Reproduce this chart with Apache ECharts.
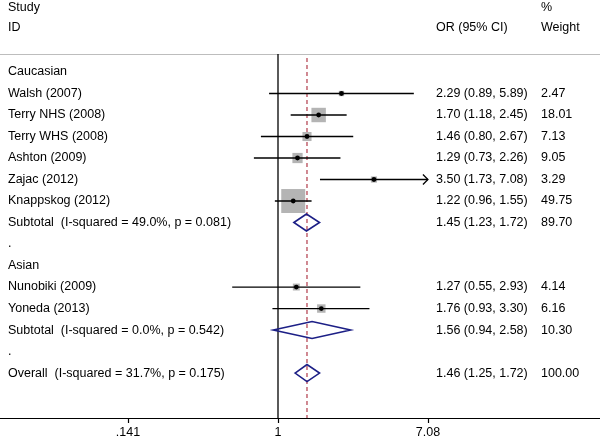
<!DOCTYPE html>
<html>
<head>
<meta charset="utf-8">
<script src="https://cdn.jsdelivr.net/npm/echarts@6/dist/echarts.min.js"></script>
<style>html,body{margin:0;padding:0;background:#fff}#c{width:600px;height:443px}</style>
</head>
<body>
<div id="c"></div>
<script>
// ---- data ----
const rowLabels = ['Caucasian','Walsh (2007)','Terry NHS (2008)','Terry WHS (2008)','Ashton (2009)','Zajac (2012)','Knappskog (2012)','Subtotal  (I-squared = 49.0%, p = 0.081)','.','Asian','Nunobiki (2009)','Yoneda (2013)','Subtotal  (I-squared = 0.0%, p = 0.542)','.','Overall  (I-squared = 31.7%, p = 0.175)'];
const rowOR = ['','2.29 (0.89, 5.89)','1.70 (1.18, 2.45)','1.46 (0.80, 2.67)','1.29 (0.73, 2.26)','3.50 (1.73, 7.08)','1.22 (0.96, 1.55)','1.45 (1.23, 1.72)','','','1.27 (0.55, 2.93)','1.76 (0.93, 3.30)','1.56 (0.94, 2.58)','','1.46 (1.25, 1.72)'];
const rowWeight = ['','2.47','18.01','7.13','9.05','3.29','49.75','89.70','','','4.14','6.16','10.30','','100.00'];

const studyRows = [1,2,3,4,5,6,10,11];
const studyOR = [2.29,1.70,1.46,1.29,3.50,1.22,1.27,1.76];
const studyLo = [0.89,1.18,0.80,0.73,1.73,0.96,0.55,0.93];
const studyHi = [5.89,2.45,2.67,2.26,7.08,1.55,2.93,3.30];
const studyWeight = [2.47,18.01,7.13,9.05,3.29,49.75,4.14,6.16];

const pooledRows = [7,12,14];
const pooledOR = [1.45,1.56,1.46];
const pooledLo = [1.23,0.94,1.25];
const pooledHi = [1.72,2.58,1.72];

const tickValues = [0.141, 1, 7.08];
const tickLabels = ['.141', '1', '7.08'];
const nullValue = 1;
const overallOR = pooledOR[pooledOR.length - 1];

// ---- layout ----
const FONT = 'Liberation Sans';
const FS = 12.5;
const pxPerDec = 300 / (Math.log10(7.08) - Math.log10(0.141));
const xAt1 = 278;
const xMin = Math.pow(10, -xAt1 / pxPerDec);
const xMax = Math.pow(10, (600 - xAt1) / pxPerDec);
const arrowLimit = tickValues[tickValues.length - 1];

const studyData = studyRows.map((r, i) => [studyOR[i], studyLo[i], studyHi[i], r, studyWeight[i]]);
const pooledData = pooledRows.map((r, i) => [pooledOR[i], pooledLo[i], pooledHi[i], r]);
const textData = rowLabels.map((l, i) => [1, i, l, rowOR[i], rowWeight[i]]);

const chart = echarts.init(document.getElementById('c'), null, {renderer: 'canvas'});
chart.setOption({
  animation: false,
  backgroundColor: '#fff',
  grid: {left: 0, right: 0, top: 54, bottom: 25},
  xAxis: [{
    type: 'log', logBase: 10, min: xMin, max: xMax, position: 'bottom',
    axisLine: {show: true, onZero: false, lineStyle: {color: '#000', width: 1.2}},
    axisTick: {show: true, length: 5, inside: false, lineStyle: {color: '#000', width: 1.2}, customValues: tickValues},
    axisLabel: {show: true, margin: 8, color: '#000', fontFamily: FONT, fontSize: FS, customValues: tickValues,
      formatter: v => { const k = tickValues.findIndex(t => Math.abs(t - v) < 1e-6); return k >= 0 ? tickLabels[k] : ''; }},
    splitLine: {show: false}
  }, {
    type: 'value', position: 'top', min: 0, max: 1,
    axisLine: {show: true, onZero: false, lineStyle: {color: '#bdbdbd', width: 1.2}},
    axisTick: {show: false}, axisLabel: {show: false}, splitLine: {show: false}
  }],
  yAxis: {type: 'value', inverse: true, min: -0.837, max: 16.09, show: false},
  graphic: [
    {type: 'text', left: 8, top: 1, style: {text: 'Study', font: FS + 'px ' + FONT, fill: '#000'}},
    {type: 'text', left: 8, top: 21, style: {text: 'ID', font: FS + 'px ' + FONT, fill: '#000'}},
    {type: 'text', left: 436, top: 21, style: {text: 'OR (95% CI)', font: FS + 'px ' + FONT, fill: '#000'}},
    {type: 'text', left: 541, top: 1, style: {text: '%', font: FS + 'px ' + FONT, fill: '#000'}},
    {type: 'text', left: 541, top: 21, style: {text: 'Weight', font: FS + 'px ' + FONT, fill: '#000'}}
  ],
  series: [
    { // reference lines
      type: 'custom', z: 1, silent: true,
      data: [[nullValue, 0], [overallOR, 1]],
      encode: {x: 0},
      renderItem: function (params, api) {
        const cs = params.coordSys;
        const x = api.coord([api.value(0), 0])[0];
        const dashed = api.value(1) === 1;
        return {
          type: 'line',
          shape: {x1: x, y1: cs.y + (dashed ? 4 : 0), x2: x, y2: cs.y + cs.height},
          style: dashed ? {stroke: '#b23b4a', lineWidth: 1.2, lineDash: [4, 3]} : {stroke: '#000', lineWidth: 1.3}
        };
      }
    },
    { // studies
      type: 'custom', z: 3, silent: true,
      data: studyData,
      encode: {x: [0, 1, 2], y: 3},
      renderItem: function (params, api) {
        const row = api.value(3);
        const c = api.coord([api.value(0), row]);
        const l = api.coord([api.value(1), row]);
        const h = api.coord([api.value(2), row]);
        const s = 3.4 * Math.sqrt(api.value(4));
        const ch = [
          {type: 'rect', shape: {x: c[0] - s / 2, y: c[1] - s / 2, width: s, height: s}, style: {fill: '#b4b4b4'}},
          {type: 'line', shape: {x1: l[0], y1: l[1], x2: h[0], y2: h[1]}, style: {stroke: '#000', lineWidth: 1.3}},
          {type: 'circle', shape: {cx: c[0], cy: c[1], r: 2.4}, style: {fill: '#000'}}
        ];
        if (api.value(2) >= arrowLimit) {
          ch.push({type: 'polyline', shape: {points: [[h[0] - 5, h[1] - 5], [h[0], h[1]], [h[0] - 5, h[1] + 5]]}, style: {stroke: '#000', lineWidth: 1.3, fill: null}});
        }
        return {type: 'group', children: ch};
      }
    },
    { // pooled diamonds
      type: 'custom', z: 4, silent: true,
      data: pooledData,
      encode: {x: [0, 1, 2], y: 3},
      renderItem: function (params, api) {
        const row = api.value(3);
        const c = api.coord([api.value(0), row]);
        const l = api.coord([api.value(1), row]);
        const h = api.coord([api.value(2), row]);
        const hh = 8.5;
        return {
          type: 'polygon',
          shape: {points: [[l[0], c[1]], [c[0], c[1] - hh], [h[0], c[1]], [c[0], c[1] + hh]]},
          style: {stroke: '#1c1f86', lineWidth: 1.6, fill: null}
        };
      }
    },
    { // text columns
      type: 'custom', z: 5, silent: true,
      data: textData,
      encode: {y: 1},
      renderItem: function (params, api) {
        const y = api.coord([1, api.value(1)])[1];
        const d = textData[params.dataIndex];
        const st = {font: FS + 'px ' + FONT, fill: '#000', textVerticalAlign: 'middle', verticalAlign: 'middle'};
        return {type: 'group', children: [
          {type: 'text', x: 8, y: y, style: Object.assign({text: d[2]}, st)},
          {type: 'text', x: 436, y: y, style: Object.assign({text: d[3]}, st)},
          {type: 'text', x: 541, y: y, style: Object.assign({text: d[4]}, st)}
        ]};
      }
    }
  ]
});
</script>
</body>
</html>
